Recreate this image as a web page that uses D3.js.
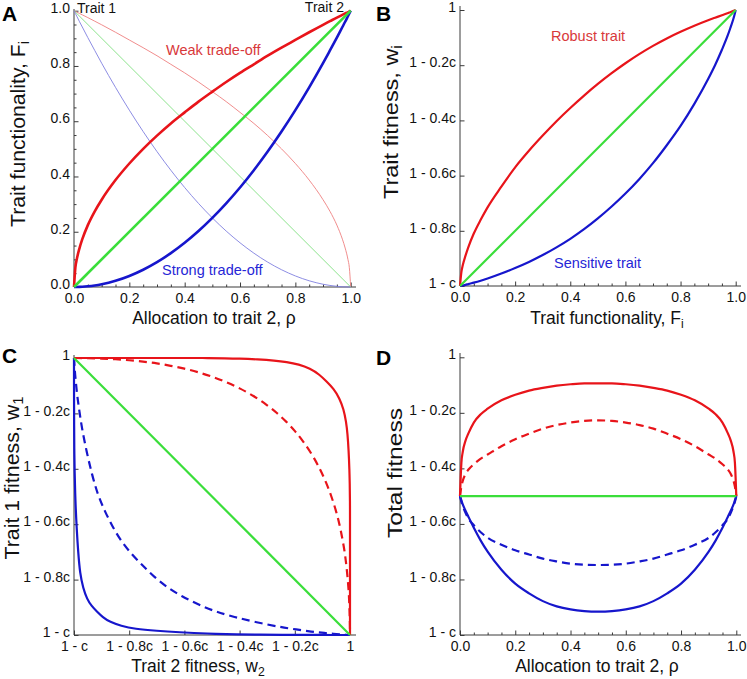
<!DOCTYPE html>
<html><head><meta charset="utf-8">
<script src="https://cdn.jsdelivr.net/npm/d3@7"></script>
<style>body{margin:0;background:#fff}svg{display:block;font-family:"Liberation Sans",Arial,sans-serif}</style>
</head><body><svg id="c" width="747" height="679"></svg>
<script>
// ---------- DATA ----------
// shared grid for allocation rho (panels A, D) and functionality F (panel B)
const rho = [0,0.005,0.01,0.02,0.03,0.05,0.075,0.1,0.15,0.2,0.25,0.3,0.35,0.4,0.45,0.5,0.55,0.6,0.65,0.7,0.75,0.8,0.85,0.9,0.925,0.95,0.97,0.98,0.99,0.995,1];

// Panel A: trait functionality
const weakTrait2 = [0,0.071,0.1,0.141,0.173,0.224,0.274,0.316,0.387,0.447,0.5,0.548,0.592,0.632,0.671,0.707,0.742,0.775,0.806,0.837,0.866,0.894,0.922,0.949,0.962,0.975,0.985,0.99,0.995,0.997,1];
const weakTrait1 = [1,0.997,0.995,0.99,0.985,0.975,0.962,0.949,0.922,0.894,0.866,0.837,0.806,0.775,0.742,0.707,0.671,0.632,0.592,0.548,0.5,0.447,0.387,0.316,0.274,0.224,0.173,0.141,0.1,0.071,0];
const strongTrait2 = [0,0.00003,0.0001,0.0004,0.0009,0.0025,0.0056,0.01,0.0225,0.04,0.0625,0.09,0.1225,0.16,0.2025,0.25,0.3025,0.36,0.4225,0.49,0.5625,0.64,0.7225,0.81,0.856,0.9025,0.941,0.96,0.98,0.99,1];
const strongTrait1 = [1,0.99,0.98,0.96,0.941,0.9025,0.856,0.81,0.7225,0.64,0.5625,0.49,0.4225,0.36,0.3025,0.25,0.2025,0.16,0.1225,0.09,0.0625,0.04,0.0225,0.01,0.0056,0.0025,0.0009,0.0004,0.0001,0.00003,0];
const linEnds = [0,1];
const linTrait2 = [0,1];
const linTrait1 = [1,0];

// Panel B: trait fitness (0 = 1-c, 1 = 1)
const robustFit = [0,0.05,0.075,0.11,0.14,0.19,0.24,0.285,0.36,0.43,0.49,0.545,0.597,0.645,0.69,0.732,0.771,0.807,0.84,0.87,0.897,0.921,0.943,0.963,0.972,0.981,0.988,0.992,0.996,0.998,1];
const sensitiveFit = [0,0.001,0.002,0.004,0.007,0.012,0.019,0.027,0.045,0.065,0.087,0.112,0.14,0.171,0.206,0.245,0.288,0.335,0.387,0.445,0.51,0.58,0.66,0.75,0.80,0.856,0.905,0.933,0.963,0.98,1];
const linFit = [0,1];

// Panel C: trait 1 fitness (w1) vs trait 2 fitness (w2)
const cRedSolidW2 = [0,0.24,0.30,0.365,0.41,0.485,0.55,0.595,0.667,0.727,0.77,0.815,0.855,0.89,0.915,0.94,0.962,0.977,0.986,0.991,0.995,0.998,0.999,1,1,1,1,1,1];
const cRedSolidW1 = [1,1,1,1,1,1,0.999,0.998,0.995,0.991,0.986,0.977,0.962,0.94,0.915,0.89,0.855,0.815,0.77,0.727,0.667,0.595,0.55,0.485,0.41,0.365,0.30,0.24,0];
const cRedDashW2 = [0,0.05,0.1,0.15,0.2,0.25,0.3,0.35,0.4,0.45,0.5,0.55,0.6,0.65,0.7,0.735,0.77,0.802,0.83,0.864,0.891,0.914,0.933,0.949,0.962,0.972,0.981,0.987,0.992,0.996,0.998,0.9996,1];
const cRedDashW1 = [1,0.9996,0.998,0.996,0.992,0.987,0.981,0.972,0.962,0.949,0.933,0.914,0.891,0.864,0.83,0.802,0.77,0.735,0.7,0.65,0.6,0.55,0.5,0.45,0.4,0.35,0.3,0.25,0.2,0.15,0.1,0.05,0];
const cBlueDashW2 = [0,0.001,0.002,0.004,0.007,0.012,0.02,0.028,0.046,0.065,0.085,0.11,0.14,0.17,0.21,0.25,0.29,0.34,0.39,0.45,0.51,0.58,0.66,0.75,0.805,0.86,0.91,0.94,0.97,0.985,1];
const cBlueDashW1 = [1,0.985,0.97,0.94,0.91,0.86,0.805,0.75,0.66,0.58,0.51,0.45,0.39,0.34,0.29,0.25,0.21,0.17,0.14,0.11,0.085,0.065,0.046,0.028,0.02,0.012,0.007,0.004,0.002,0.001,0];
const cBlueSolidW2 = [0,0,0,0.0001,0.0002,0.0005,0.001,0.002,0.005,0.01,0.015,0.022,0.033,0.047,0.064,0.084,0.104,0.13,0.17,0.22,0.30,0.38,0.48,0.596,0.67,0.755,0.84,0.89,0.94,0.97,1];
const cBlueSolidW1 = [1,0.97,0.94,0.89,0.84,0.755,0.67,0.596,0.48,0.38,0.30,0.22,0.17,0.13,0.104,0.084,0.064,0.047,0.033,0.022,0.015,0.01,0.005,0.002,0.001,0.0005,0.0002,0.0001,0,0,0];
const cGreenW2 = [0,1];
const cGreenW1 = [1,0];

// Panel D: total fitness vs rho
const dRedSolid = [0.5,0.62,0.66,0.70,0.725,0.765,0.795,0.815,0.845,0.865,0.88,0.89,0.898,0.903,0.906,0.906,0.906,0.903,0.898,0.89,0.88,0.865,0.845,0.815,0.795,0.765,0.725,0.70,0.66,0.62,0.5];
const dRedDash = [0.5,0.535,0.555,0.58,0.595,0.615,0.635,0.65,0.68,0.705,0.725,0.743,0.756,0.765,0.771,0.773,0.771,0.765,0.756,0.743,0.725,0.705,0.68,0.65,0.635,0.615,0.595,0.58,0.555,0.535,0.5];
const dBlueDash = [0.5,0.48,0.465,0.44,0.42,0.395,0.37,0.35,0.325,0.305,0.29,0.275,0.265,0.257,0.253,0.252,0.253,0.257,0.265,0.275,0.29,0.305,0.325,0.35,0.37,0.395,0.42,0.44,0.465,0.48,0.5];
const dBlueSolid = [0.5,0.485,0.47,0.448,0.427,0.386,0.34,0.3,0.235,0.185,0.15,0.122,0.103,0.092,0.086,0.084,0.086,0.092,0.103,0.122,0.15,0.185,0.235,0.3,0.34,0.386,0.427,0.448,0.47,0.485,0.5];
const dGreen = [0.5,0.5];

// tick labels
const decTicks = [0,0.2,0.4,0.6,0.8,1];
const decLabels = ["0.0","0.2","0.4","0.6","0.8","1.0"];
const fitLabels = ["1 - c","1 - 0.8c","1 - 0.6c","1 - 0.4c","1 - 0.2c","1"];
const minorTicks = [0.05,0.1,0.15,0.25,0.3,0.35,0.45,0.5,0.55,0.65,0.7,0.75,0.85,0.9,0.95];

// ---------- DRAWING ----------
const svg = d3.select("#c");
const RED = "#e8141a", BLUE = "#1616cc", GREEN = "#3ade3a";
const RED_T = "#d8383a", BLUE_T = "#2626d6";
const AX = "#3a3a3a";

function panel(cfg){
  const x = d3.scaleLinear().domain([0,1]).range([cfg.x0,cfg.x1]);
  const y = d3.scaleLinear().domain([0,1]).range([cfg.y0,cfg.y1]);
  const g = svg.append("g");
  g.append("line").attr("x1",cfg.x0).attr("x2",cfg.xEnd).attr("y1",cfg.y0).attr("y2",cfg.y0).attr("stroke",AX).attr("stroke-width",1);
  g.append("line").attr("x1",cfg.x0).attr("x2",cfg.x0).attr("y1",cfg.y0).attr("y2",cfg.yTop).attr("stroke",AX).attr("stroke-width",1);
  const xa = d3.axisBottom(x).tickValues(decTicks).tickSizeInner(-4.5).tickSizeOuter(0).tickPadding(6)
    .tickFormat((d,i)=>cfg.xLabels[i]);
  const gx = g.append("g").attr("transform",`translate(0,${cfg.y0})`).call(xa);
  gx.select(".domain").remove();
  gx.selectAll("line").attr("stroke",AX);
  gx.selectAll("text").attr("font-size",14).attr("fill","#111").attr("font-family","Liberation Sans, Arial, sans-serif");
  if(cfg.xMinor){
    const gxm = g.append("g").attr("transform",`translate(0,${cfg.y0})`).call(d3.axisBottom(x).tickValues(minorTicks).tickSizeInner(-2.5).tickSizeOuter(0).tickFormat(""));
    gxm.select(".domain").remove(); gxm.selectAll("line").attr("stroke",AX);
  }
  const ya = d3.axisLeft(y).tickValues(decTicks).tickSizeInner(-4.5).tickSizeOuter(0).tickPadding(4)
    .tickFormat((d,i)=>cfg.yLabels[i]);
  const gy = g.append("g").attr("transform",`translate(${cfg.x0},0)`).call(ya);
  gy.select(".domain").remove();
  gy.selectAll("line").attr("stroke",AX);
  gy.selectAll("text").attr("font-size",14).attr("fill","#111").attr("dy","0.12em").attr("font-family","Liberation Sans, Arial, sans-serif");
  if(cfg.yMinor){
    const gym = g.append("g").attr("transform",`translate(${cfg.x0},0)`).call(d3.axisLeft(y).tickValues(minorTicks).tickSizeInner(-2.5).tickSizeOuter(0).tickFormat(""));
    gym.select(".domain").remove(); gym.selectAll("line").attr("stroke",AX);
  }
  g.append("text").attr("x",cfg.lx).attr("y",cfg.ly).attr("font-size",21).attr("font-weight","bold").attr("fill","#000").text(cfg.letter);
  const xt = g.append("text").attr("x",cfg.xtX).attr("y",cfg.xtY).attr("text-anchor","middle").attr("font-size",17.5).attr("fill","#111");
  cfg.xTitle(xt);
  const yt = g.append("text").attr("transform",`translate(${cfg.ytX},${cfg.ytY}) rotate(-90)`).attr("text-anchor","middle")
    .attr("font-size",20).attr("fill","#111").attr("textLength",cfg.ytLen).attr("lengthAdjust","spacingAndGlyphs");
  cfg.yTitle(yt);
  const lineG = g.append("g").attr("fill","none").attr("stroke-linecap","butt");
  function draw(xs, ys, color, w, dash, curve){
    const pts = xs.map((v,i)=>[v, ys[i]]);
    const p = lineG.append("path").datum(pts)
      .attr("d", d3.line().x(d=>x(d[0])).y(d=>y(d[1])).curve(curve||d3.curveMonotoneX))
      .attr("stroke",color).attr("stroke-width",w);
    if(dash) p.attr("stroke-dasharray",dash);
    return p;
  }
  return {x,y,g,draw};
}

function sub(t, main, s){
  t.append("tspan").text(main);
  t.append("tspan").attr("font-size","70%").attr("dy","0.3em").text(s);
}

// Panel A
const A = panel({x0:74,x1:350.7,y0:287,y1:10.7,xEnd:356,yTop:9,xMinor:true,yMinor:true,
  xLabels:decLabels,yLabels:decLabels,letter:"A",lx:2,ly:21,
  xtX:214,xtY:324,ytX:25,ytY:134,ytLen:186,
  xTitle:t=>t.text("Allocation to trait 2, \u03c1"),
  yTitle:t=>sub(t,"Trait functionality, F","i")});
A.draw(rho, weakTrait1, "#ee8080", 0.9);
A.draw(linEnds, linTrait1, "#80e080", 0.9);
A.draw(rho, strongTrait1, "#8080e0", 0.9);
A.draw(rho, weakTrait2, RED, 2.6);
A.draw(rho, strongTrait2, BLUE, 2.6);
A.draw(linEnds, linTrait2, GREEN, 2.6);
A.g.append("text").attr("x",77).attr("y",13).attr("font-size",14).attr("fill","#111").text("Trait 1");
A.g.append("text").attr("x",344).attr("y",12).attr("font-size",14).attr("text-anchor","end").attr("fill","#111").text("Trait 2");
A.g.append("text").attr("x",166).attr("y",55).attr("font-size",14.5).attr("fill",RED_T).text("Weak trade-off");
A.g.append("text").attr("x",162).attr("y",275).attr("font-size",14.5).attr("fill",BLUE_T).text("Strong trade-off");

// Panel B
const B = panel({x0:460,x1:735.7,y0:286,y1:10,xEnd:741,yTop:6,xMinor:true,yMinor:false,
  xLabels:decLabels,yLabels:fitLabels,letter:"B",lx:376,ly:21,
  xtX:607,xtY:324,ytX:398,ytY:122,ytLen:154,
  xTitle:t=>sub(t,"Trait functionality, F","i"),
  yTitle:t=>sub(t,"Trait fitness, w","i")});
B.draw(rho, robustFit, RED, 2.2);
B.draw(rho, sensitiveFit, BLUE, 2.2);
B.draw(linEnds, linFit, GREEN, 2.2);
B.g.append("text").attr("x",551).attr("y",41).attr("font-size",14.5).attr("fill",RED_T).text("Robust trait");
B.g.append("text").attr("x",554).attr("y",268).attr("font-size",14.5).attr("fill",BLUE_T).text("Sensitive trait");

// Panel C
const C = panel({x0:74,x1:350,y0:635,y1:358,xEnd:356,yTop:355,xMinor:false,yMinor:false,
  xLabels:fitLabels,yLabels:fitLabels,letter:"C",lx:2,ly:363,
  xtX:198,xtY:672,ytX:19,ytY:478,ytLen:163,
  xTitle:t=>sub(t,"Trait 2 fitness, w","2"),
  yTitle:t=>sub(t,"Trait 1 fitness, w","1")});
const cb = d3.curveBasis;
C.draw(cBlueSolidW2, cBlueSolidW1, BLUE, 2.2, null, cb);
C.draw(cBlueDashW2, cBlueDashW1, BLUE, 2.2, "8,5", cb);
C.draw(cRedDashW2, cRedDashW1, RED, 2.2, "8,5", cb);
C.draw(cRedSolidW2, cRedSolidW1, RED, 2.2, null, cb);
C.draw(cGreenW2, cGreenW1, GREEN, 2.2, null, d3.curveLinear);

// Panel D
const D = panel({x0:460,x1:736.3,y0:635,y1:357.3,xEnd:741,yTop:353,xMinor:true,yMinor:false,
  xLabels:decLabels,yLabels:fitLabels,letter:"D",lx:376,ly:365,
  xtX:597,xtY:672,ytX:402,ytY:473,ytLen:130,
  xTitle:t=>t.text("Allocation to trait 2, \u03c1"),
  yTitle:t=>t.text("Total fitness")});
D.draw(rho, dRedSolid, RED, 2.2);
D.draw(rho, dRedDash, RED, 2.2, "8,5");
D.draw(rho, dBlueDash, BLUE, 2.2, "8,5");
D.draw(rho, dBlueSolid, BLUE, 2.2);
D.draw(linEnds, dGreen, GREEN, 2.2);
</script></body></html>
